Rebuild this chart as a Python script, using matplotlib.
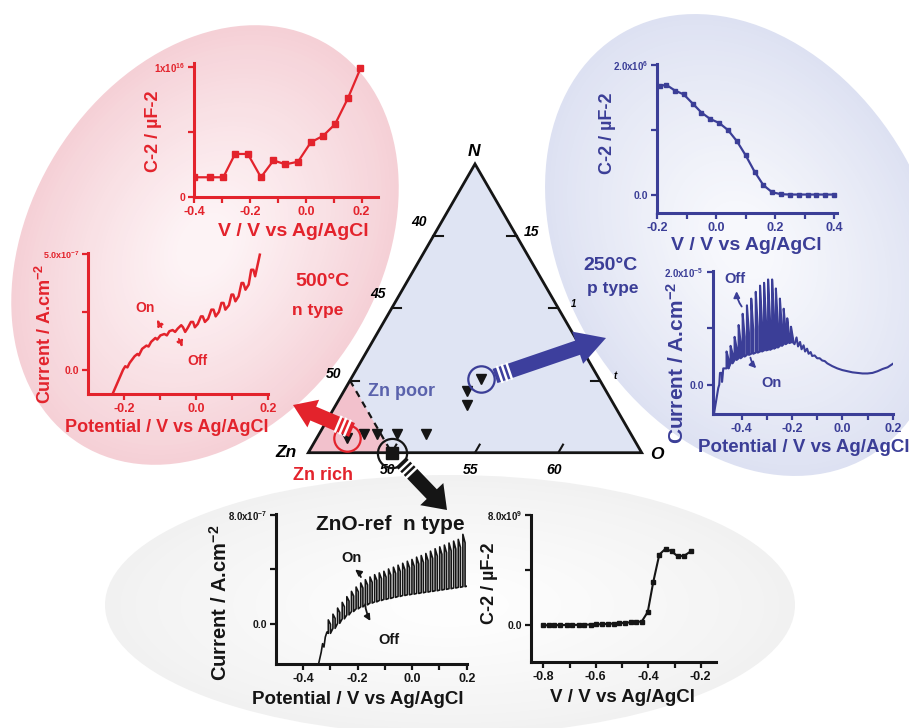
import numpy as np
import matplotlib
matplotlib.use('Agg')
import matplotlib.pyplot as plt
import matplotlib.colors as mcolors
from matplotlib.patches import Ellipse, Polygon, FancyArrow

plt.rcParams['font.family'] = ['Liberation Sans', 'DejaVu Sans']
plt.rcParams['font.weight'] = 'bold'
plt.rcParams['mathtext.fontset'] = 'custom'
plt.rcParams['mathtext.rm'] = 'Liberation Sans:bold'
plt.rcParams['mathtext.it'] = 'Liberation Sans:bold:italic'
plt.rcParams['mathtext.bf'] = 'Liberation Sans:bold'
plt.rcParams['mathtext.default'] = 'rm'

RED = '#e3232c'
BLUE = '#3b3e97'
BLACK = '#151515'

# ---------------- data ----------------
# 500 C film: Mott-Schottky (C^-2 in units of 1e16 uF^-2)
ms500_v = [-0.40, -0.343, -0.296, -0.254, -0.208, -0.161, -0.116, -0.073, -0.028, 0.018, 0.062, 0.105, 0.151, 0.196]
ms500_c = [0.15, 0.15, 0.15, 0.33, 0.33, 0.15, 0.28, 0.25, 0.27, 0.42, 0.47, 0.56, 0.76, 0.99]

# 500 C film: chopped-light current (units of 1e-7 A cm^-2)
i500_v = [-0.231, -0.217, -0.203, -0.197, -0.191, -0.185, -0.171, -0.163, -0.159, -0.150, -0.138, -0.132,
          -0.125, -0.113, -0.108, -0.099, -0.088, -0.081, -0.074, -0.065, -0.058, -0.051, -0.041, -0.036,
          -0.030, -0.023, -0.014, -0.008, -0.003, 0.005, 0.014, 0.019, 0.025, 0.034, 0.043, 0.049, 0.055,
          0.064, 0.071, 0.077, 0.082, 0.092, 0.099, 0.104, 0.110, 0.119, 0.127, 0.132, 0.138, 0.147, 0.154,
          0.160, 0.165, 0.173, 0.178]
i500_j = [-0.99, -0.49, 0.01, 0.16, 0.11, 0.30, 0.59, 0.69, 0.63, 0.91, 1.05, 1.01, 1.21, 1.38, 1.31,
          1.49, 1.55, 1.49, 1.67, 1.72, 1.64, 1.78, 1.93, 1.84, 1.64, 1.81, 2.07, 2.07, 1.84, 1.98, 2.31,
          2.31, 2.07, 2.21, 2.60, 2.60, 2.31, 2.50, 2.89, 2.89, 2.60, 2.79, 3.25, 3.25, 2.96, 3.18, 3.75,
          3.75, 3.46, 3.68, 4.32, 4.32, 4.04, 4.61, 4.97]

# 250 C film: Mott-Schottky (units of 1e6 uF^-2)
ms250_v = [-0.19, -0.17, -0.14, -0.11, -0.08, -0.05, -0.02, 0.01, 0.04, 0.07, 0.10, 0.13, 0.16, 0.19,
           0.22, 0.25, 0.28, 0.31, 0.34, 0.37, 0.40]
ms250_c = [1.68, 1.70, 1.61, 1.55, 1.41, 1.27, 1.17, 1.11, 1.00, 0.83, 0.61, 0.36, 0.15, 0.04,
           0.01, 0.005, 0.005, 0.005, 0.005, 0.005, 0.005]

# 250 C film: chopped-light current (units of 1e-5 A cm^-2)
i250_lead_v = [-0.510, -0.493, -0.489, -0.486, -0.478, -0.478, -0.473]
i250_lead_j = [-0.52, -0.06, 0.00, 0.21, 0.21, 0.05, 0.29]
i250_on_v = [-0.460, -0.444, -0.428, -0.412, -0.396, -0.379, -0.362, -0.344, -0.327, -0.311, -0.295,
             -0.279, -0.264, -0.248, -0.233, -0.219, -0.204]
i250_off_v = [-0.452, -0.436, -0.420, -0.404, -0.388, -0.371, -0.354, -0.336, -0.319, -0.303, -0.287,
              -0.271, -0.256, -0.240, -0.225, -0.211, -0.196]
i250_dark = [0.29, 0.38, 0.44, 0.47, 0.50, 0.53, 0.55, 0.57, 0.59, 0.61, 0.62, 0.64, 0.66, 0.69, 0.72, 0.74, 0.75]
i250_peak = [0.59, 0.69, 0.85, 1.06, 1.26, 1.41, 1.53, 1.65, 1.76, 1.81, 1.87, 1.87, 1.71, 1.53, 1.35, 1.18, 1.03]
i250_light = [0.45, 0.55, 0.65, 0.75, 0.85, 0.92, 0.98, 1.03, 1.08, 1.10, 1.12, 1.12, 1.06, 0.98, 0.92, 0.86, 0.82]
i250_tail_v = [-0.19, -0.182, -0.176, -0.168, -0.162, -0.154, -0.148, -0.14, -0.134, -0.126, -0.12, -0.11,
               -0.10, -0.09, -0.08, -0.07, -0.06, -0.04, -0.02, 0.0, 0.02, 0.04, 0.06, 0.08, 0.10, 0.12,
               0.14, 0.16, 0.18, 0.2]
i250_tail_j = [0.72, 0.84, 0.68, 0.76, 0.63, 0.70, 0.59, 0.64, 0.55, 0.58, 0.51, 0.52, 0.47, 0.47, 0.43,
               0.42, 0.38, 0.33, 0.29, 0.26, 0.24, 0.22, 0.21, 0.20, 0.20, 0.21, 0.24, 0.28, 0.31, 0.37]

# ZnO reference: chopped-light current (units of 1e-7 A cm^-2)
iref_lead_v = [-0.344, -0.334, -0.329, -0.324, -0.319, -0.313]
iref_lead_j = [-3.0, -2.1, -1.48, -1.73, -0.99, -0.62]
iref_on_v = [-0.308, -0.291, -0.274, -0.257, -0.240, -0.223, -0.206, -0.189, -0.172, -0.155, -0.138,
             -0.121, -0.104, -0.087, -0.069, -0.052, -0.035, -0.018, -0.001, 0.016, 0.033, 0.050, 0.067,
             0.084, 0.101, 0.118, 0.135, 0.152, 0.169, 0.186]
iref_off_v = [-0.300, -0.283, -0.266, -0.249, -0.232, -0.215, -0.198, -0.181, -0.164, -0.147, -0.130,
              -0.113, -0.096, -0.079, -0.061, -0.044, -0.027, -0.010, 0.007, 0.024, 0.041, 0.058, 0.075,
              0.092, 0.109, 0.126, 0.143, 0.160, 0.177, 0.194]
iref_dark = [-0.72, -0.35, 0.02, 0.35, 0.64, 0.89, 1.09, 1.23, 1.38, 1.51, 1.60, 1.70, 1.78, 1.85, 1.93,
             2.00, 2.07, 2.12, 2.17, 2.22, 2.27, 2.32, 2.37, 2.42, 2.47, 2.52, 2.57, 2.62, 2.67, 2.72]
iref_peak = [0.27, 0.69, 1.14, 1.56, 1.98, 2.37, 2.69, 2.99, 3.23, 3.43, 3.60, 3.73, 3.85, 4.02, 4.15,
             4.30, 4.44, 4.59, 4.72, 4.89, 5.01, 5.16, 5.33, 5.51, 5.65, 5.78, 5.93, 6.07, 6.20, 6.57]
iref_light = [-0.05, 0.38, 0.82, 1.24, 1.66, 2.03, 2.34, 2.62, 2.85, 3.04, 3.19, 3.31, 3.42, 3.58, 3.70,
              3.84, 3.97, 4.11, 4.23, 4.39, 4.50, 4.64, 4.80, 4.97, 5.10, 5.22, 5.36, 5.49, 5.61, 5.95]
iref_tail_v = [0.2]
iref_tail_j = [2.75]

# ZnO reference: Mott-Schottky (units of 1e9 uF^-2)
msref_v = [-0.80, -0.78, -0.76, -0.735, -0.71, -0.69, -0.665, -0.645, -0.62, -0.60, -0.575, -0.555,
           -0.53, -0.51, -0.49, -0.465, -0.445, -0.425, -0.402, -0.381, -0.358, -0.334, -0.311, -0.288,
           -0.262, -0.238]
msref_c = [0.0, 0.0, 0.01, 0.01, 0.02, 0.02, 0.03, 0.04, 0.05, 0.06, 0.08, 0.10, 0.12, 0.15, 0.18,
           0.21, 0.24, 0.27, 0.96, 3.13, 5.11, 5.54, 5.35, 4.99, 5.04, 5.35]

# ternary diagram (at.%): samples
zr_N = [1.0]; zr_O = [46.8]                        # circled Zn-rich sample (500 C)
pts_N = [1.3, 1.3, 1.3, 1.3, 4.3, 3.3]             # other films
pts_O = [47.7, 48.5, 49.7, 51.4, 52.4, 52.9]
zp_N = [5.1]; zp_O = [52.8]                        # circled Zn-poor sample (250 C)
ref_N = [0.0]; ref_O = [50.0]                      # ZnO reference
left_ticks = [50, 45, 40]      # Zn at.% on left edge
right_ticks = [5, 10, 15]      # N at.% on right edge
right_labels = ['t', '1', '15']
bottom_ticks = [50, 55, 60]    # O at.% on bottom edge

# ---------------- figure ----------------
W, H = 909, 728
fig = plt.figure(figsize=(W / 100, H / 100), dpi=100)


def px_axes(l, t, r, b, z=2):
    ax = fig.add_axes([l / W, 1 - b / H, (r - l) / W, (b - t) / H], zorder=z)
    ax.patch.set_alpha(0)
    return ax


bg = fig.add_axes([0, 0, 1, 1], zorder=0)
bg.set_xlim(0, W); bg.set_ylim(H, 0); bg.axis('off')


def grad_ellipse(ax, cx, cy, w, h, ang, c_edge, c_center, n=40, fmin=0.15, gamma=0.9):
    ce = np.array(mcolors.to_rgb(c_edge)); cc = np.array(mcolors.to_rgb(c_center))
    for k in range(n):
        t = k / (n - 1)
        f = 1 - t * (1 - fmin)
        s = t ** gamma
        col = ce * (1 - s) + cc * s
        ax.add_patch(Ellipse((cx, cy), w * f, h * f, angle=ang, fc=col, ec='none'))


grad_ellipse(bg, 450, 605, 690, 260, 0, '#f1f1f1', '#fdfdfd')
grad_ellipse(bg, 205, 245, 470, 350, -58, '#f5d0d6', '#fdf3f5')
grad_ellipse(bg, 745, 245, 490, 365, 60, '#dde1f2', '#f7f8fc')

ov = fig.add_axes([0, 0, 1, 1], zorder=6)
ov.set_xlim(0, W); ov.set_ylim(H, 0); ov.axis('off'); ov.patch.set_alpha(0)


def txt(s, x, y, color, size, rot=0, style='normal', ax=None, **kw):
    (ax or ov).text(x, y, s, color=color, fontsize=size, rotation=rot, ha='center', va='center',
                    fontweight='bold', fontstyle=style, **kw)


def style_panel(ax, c, xlim, ylim, xmaj, xlab, xmin, ymaj, ylab, ymin, xsize=9, ysize=7.5, topsize=7):
    for s in ['top', 'right']:
        ax.spines[s].set_visible(False)
    for s in ['left', 'bottom']:
        ax.spines[s].set_color(c)
        ax.spines[s].set_linewidth(2.2)
    ax.set_xlim(*xlim); ax.set_ylim(*ylim)
    ax.set_xticks(xmaj); ax.set_xticklabels(xlab)
    ax.set_xticks(xmin, minor=True)
    ax.set_yticks(ymaj); ax.set_yticklabels(ylab)
    ax.set_yticks(ymin, minor=True)
    ax.tick_params(which='both', direction='out', color=c, labelcolor=c, width=1.6, pad=2)
    ax.tick_params(which='major', length=4.5)
    ax.tick_params(which='minor', length=4.5)
    ax.tick_params(axis='x', labelsize=xsize)
    ax.tick_params(axis='y', labelsize=ysize)
    for lbl in ax.get_xticklabels() + ax.get_yticklabels():
        lbl.set_fontweight('bold')
    ax.get_yticklabels()[-1].set_fontsize(topsize)


def chopped(lead_v, lead_j, on_v, off_v, dark, peak, light, tail_v, tail_j):
    xs = list(lead_v); ys = list(lead_j)
    for i in range(len(on_v)):
        xs += [on_v[i], on_v[i], off_v[i], off_v[i]]
        ys += [dark[i], peak[i], light[i], dark[i]]
    return xs + list(tail_v), ys + list(tail_j)


# ---- Panel A: 500C Mott-Schottky ----
axA = px_axes(194.3, 63.3, 378.3, 196.7)
axA.plot(ms500_v, ms500_c, '-s', color=RED, lw=1.6, ms=4)
style_panel(axA, RED, (-0.4, 0.26), (0, 1.03), [-0.4, -0.2, 0.0, 0.2], ['-0.4', '-0.2', '0.0', '0.2'],
            [-0.3, -0.1, 0.1], [0, 1.0], ['0', '1x10$^{16}$'], [0.5])
txt('C-2 / \u00b5F-2', 153, 131, RED, 13, rot=90)
txt('V / V vs Ag/AgCl', 293, 231, RED, 14)

# ---- Panel B: 500C current ----
axB = px_axes(88.3, 253.3, 267.7, 394.3)
axB.plot(i500_v, i500_j, '-', color=RED, lw=1.8)
style_panel(axB, RED, (-0.3, 0.2), (-1.05, 5.03), [-0.2, 0.0, 0.2], ['-0.2', '0.0', '0.2'],
            [-0.1, 0.1], [0, 5.0], ['0.0', '5.0x10$^{-7}$'], [2.5], topsize=6.5)
txt('Current / A.cm$^{-2}$', 45, 334, RED, 13, rot=90)
txt('Potential / V vs Ag/AgCl', 167, 428, RED, 13)
axB.annotate('', xy=(-0.113, 2.27), xytext=(-0.092, 1.74),
             arrowprops=dict(arrowstyle='-|>', color=RED, lw=1.3, ls='--', mutation_scale=9))
axB.annotate('', xy=(-0.034, 0.875), xytext=(-0.051, 1.45),
             arrowprops=dict(arrowstyle='-|>', color=RED, lw=1.3, ls='--', mutation_scale=9))
axB.text(-0.143, 2.67, 'On', color=RED, fontsize=10, ha='center', va='center', fontweight='bold')
axB.text(0.005, 0.375, 'Off', color=RED, fontsize=10, ha='center', va='center', fontweight='bold')

# ---- Panel C: 250C Mott-Schottky ----
axC = px_axes(657.3, 64, 837, 213)
axC.plot(ms250_v, ms250_c, '-s', color=BLUE, lw=1.6, ms=3.5)
style_panel(axC, BLUE, (-0.2, 0.41), (-0.28, 2.02), [-0.2, 0.0, 0.2, 0.4], ['-0.2', '0.0', '0.2', '0.4'],
            [-0.1, 0.1, 0.3], [0, 2.0], ['0.0', '2.0x10$^{6}$'], [1.0])
txt('C-2 / \u00b5F-2', 608, 133, BLUE, 13, rot=90)
txt('V / V vs Ag/AgCl', 746, 246, BLUE, 14)

# ---- Panel D: 250C current ----
axD = px_axes(712.7, 271, 892.7, 414)
xs, ys = chopped(i250_lead_v, i250_lead_j, i250_on_v, i250_off_v, i250_dark, i250_peak, i250_light,
                 i250_tail_v, i250_tail_j)
axD.plot(xs, ys, '-', color=BLUE, lw=1.5)
style_panel(axD, BLUE, (-0.515, 0.2), (-0.52, 2.02), [-0.4, -0.2, 0.0, 0.2], ['-0.4', '-0.2', '0.0', '0.2'],
            [-0.3, -0.1, 0.1], [0, 2.0], ['0.0', '2.0x10$^{-5}$'], [1.0])
txt('Current / A.cm$^{-2}$', 677, 363, BLUE, 15, rot=90)
txt('Potential / V vs Ag/AgCl', 804, 448, BLUE, 13.5)
axD.annotate('', xy=(-0.42, 1.71), xytext=(-0.393, 1.35),
             arrowprops=dict(arrowstyle='-|>', color=BLUE, lw=1.3, mutation_scale=9,
                             connectionstyle='arc3,rad=-0.2'))
axD.annotate('', xy=(-0.334, 0.26), xytext=(-0.367, 0.53),
             arrowprops=dict(arrowstyle='-|>', color=BLUE, lw=1.3, mutation_scale=9,
                             connectionstyle='arc3,rad=0.2'))
axD.text(-0.426, 1.87, 'Off', color=BLUE, fontsize=10.5, ha='center', va='center', fontweight='bold')
axD.text(-0.281, 0.03, 'On', color=BLUE, fontsize=10.5, ha='center', va='center', fontweight='bold')

# ---- Panel E: ZnO-ref current ----
axE = px_axes(276, 514, 466.7, 664.3)
xs, ys = chopped(iref_lead_v, iref_lead_j, iref_on_v, iref_off_v, iref_dark, iref_peak, iref_light,
                 iref_tail_v, iref_tail_j)
axE.plot(xs, ys, '-', color=BLACK, lw=1.2)
style_panel(axE, BLACK, (-0.5, 0.2), (-3.0, 8.07), [-0.4, -0.2, 0.0, 0.2], ['-0.4', '-0.2', '0.0', '0.2'],
            [-0.3, -0.1, 0.1], [0, 8.0], ['0.0', '8.0x10$^{-7}$'], [4.0])
txt('Current / A.cm$^{-2}$', 220, 603, BLACK, 14.5, rot=90)
txt('Potential / V vs Ag/AgCl', 358, 700, BLACK, 13.5)
txt('ZnO-ref  n type', 390, 524, BLACK, 15)
axE.annotate('', xy=(-0.218, 4.1), xytext=(-0.185, 3.23),
             arrowprops=dict(arrowstyle='-|>', color=BLACK, lw=1.3, mutation_scale=9,
                             connectionstyle='arc3,rad=0.2'))
axE.annotate('', xy=(-0.148, 0.02), xytext=(-0.173, 1.63),
             arrowprops=dict(arrowstyle='-|>', color=BLACK, lw=1.3, mutation_scale=9,
                             connectionstyle='arc3,rad=0.15'))
axE.text(-0.222, 4.84, 'On', color=BLACK, fontsize=10.5, ha='center', va='center', fontweight='bold')
axE.text(-0.087, -1.21, 'Off', color=BLACK, fontsize=10.5, ha='center', va='center', fontweight='bold')

# ---- Panel F: ZnO-ref Mott-Schottky ----
axF = px_axes(531, 514.7, 715.7, 662)
axF.plot(msref_v, msref_c, '-s', color=BLACK, lw=1.5, ms=3.5)
style_panel(axF, BLACK, (-0.847, -0.143), (-2.66, 8.0), [-0.8, -0.6, -0.4, -0.2], ['-0.8', '-0.6', '-0.4', '-0.2'],
            [-0.7, -0.5, -0.3], [0, 8.0], ['0.0', '8.0x10$^{9}$'], [4.0])
txt('C-2 / \u00b5F-2', 490, 583, BLACK, 13, rot=90)
txt('V / V vs Ag/AgCl', 622, 697, BLACK, 13.5)

# ---- ternary diagram ----
TL, TR, TB = 308.3, 641.7, 452.7
S = TR - TL
SQ = np.sqrt(3) / 2
tri = px_axes(TL, TB - S * SQ, TR, TB, z=3)
tri.set_xlim(0, 1); tri.set_ylim(0, SQ); tri.axis('off')


def tern(N, O):
    n = np.asarray(N, float) / 20.0
    o = (np.asarray(O, float) - 45.0) / 20.0
    return o + n / 2, n * SQ


cx, cy = tern([0, 0, 20], [45, 65, 45])
tri.add_patch(Polygon(np.c_[cx, cy], closed=True, fc='#dfe4f3', ec='none', clip_on=False))
px_, py_ = tern([0, 5, 0], [45, 45, 50])
tri.add_patch(Polygon(np.c_[px_, py_], closed=True, fc='#f2c1cc', ec='none', clip_on=False))
dx_, dy_ = tern([5, 0], [45, 50])
tri.plot(dx_, dy_, '--', color=BLACK, lw=1.6, dashes=(3, 2.5), clip_on=False)
tri.add_patch(Polygon(np.c_[cx, cy], closed=True, fc='none', ec=BLACK, lw=2, clip_on=False, zorder=5))

tl = 0.028
for z in left_ticks:
    x, y = tern([55 - z], [45])
    tri.plot([x[0], x[0] + tl], [y[0], y[0]], color=BLACK, lw=1.5, clip_on=False)
    off = (-12, 5) if z == 50 else (-10, 10)
    tri.annotate(str(z), (x[0], y[0]), xytext=off, textcoords='offset points', ha='center',
                 va='center', fontsize=10, fontstyle='italic', fontweight='bold')
for nv, lab in zip(right_ticks, right_labels):
    x, y = tern([nv], [65 - nv])
    tri.plot([x[0], x[0] - tl], [y[0], y[0]], color=BLACK, lw=1.5, clip_on=False)
    tri.annotate(lab, (x[0], y[0]), xytext=(11, 3), textcoords='offset points', ha='center',
                 va='center', fontsize=10 if lab == '15' else 7, fontstyle='italic', fontweight='bold')
for ov_ in bottom_ticks:
    x, y = tern([0], [ov_])
    tri.plot([x[0], x[0] + tl * 0.5], [y[0], y[0] + tl * SQ], color=BLACK, lw=1.5, clip_on=False)
    tri.annotate(str(ov_), (x[0], y[0]), xytext=(-3, -12.5), textcoords='offset points', ha='center',
                 va='center', fontsize=10, fontstyle='italic', fontweight='bold')

for lab, (N, O), off in [('N', (20, 45), (-1, 9)), ('Zn', (0, 45), (-16, 0.5)), ('O', (0, 65), (11, -1.5))]:
    x, y = tern([N], [O])
    tri.annotate(lab, (x[0], y[0]), xytext=off, textcoords='offset points', ha='center', va='center',
                 fontsize=12.5, fontstyle='italic', fontweight='bold')

x, y = tern(pts_N, pts_O)
tri.plot(x, y, 'v', color=BLACK, ms=7, clip_on=False, zorder=6)
x, y = tern(zr_N, zr_O)
tri.plot(x, y, 'v', color=BLACK, ms=7, clip_on=False, zorder=6)
tri.plot(x, y, 'o', mfc='none', mec=RED, mew=1.6, ms=19, clip_on=False, zorder=6)
x, y = tern(zp_N, zp_O)
tri.plot(x, y, 'v', color=BLACK, ms=7, clip_on=False, zorder=6)
tri.plot(x, y, 'o', mfc='none', mec=BLUE, mew=1.6, ms=19, clip_on=False, zorder=6)
x, y = tern(ref_N, ref_O)
tri.plot(x, y, 's', color=BLACK, ms=8, clip_on=False, zorder=6)
tri.plot(x, y, 'o', mfc='none', mec=BLACK, mew=1.6, ms=21, clip_on=False, zorder=6)

txt('Zn poor', 402, 392, '#5a62ac', 13)
txt('Zn rich', 323, 475, RED, 13)
txt('500\u00b0C', 322, 282, RED, 14)
txt('n type', 318, 310, RED, 12.5)
txt('250\u00b0C', 610, 265, BLUE, 14)
txt('p type', 613, 288, BLUE, 12.5)


# ---- block arrows ----
def block_arrow(x0, y0, x1, y1, color, body=15, head=36, hl=26, stripes=(5, 10, 15)):
    dx, dy = x1 - x0, y1 - y0
    L = np.hypot(dx, dy)
    ux, uy = dx / L, dy / L
    ov.add_patch(FancyArrow(x0, y0, dx, dy, width=body, head_width=head, head_length=hl,
                            length_includes_head=True, color=color, lw=0, zorder=3))
    for d in stripes:
        mx, my = x0 + ux * d, y0 + uy * d
        ov.plot([mx - uy * body * 0.6, mx + uy * body * 0.6], [my + ux * body * 0.6, my - ux * body * 0.6],
                color='white', lw=1.8, zorder=4, solid_capstyle='butt')


block_arrow(495, 376, 606, 338, '#3d3f9d', body=15, head=34, hl=30)
block_arrow(352, 430, 293, 405, RED, body=15, head=30, hl=22)
block_arrow(401, 462, 447, 510, BLACK, body=14, head=32, hl=22)

fig.savefig('out.png', dpi=100)
